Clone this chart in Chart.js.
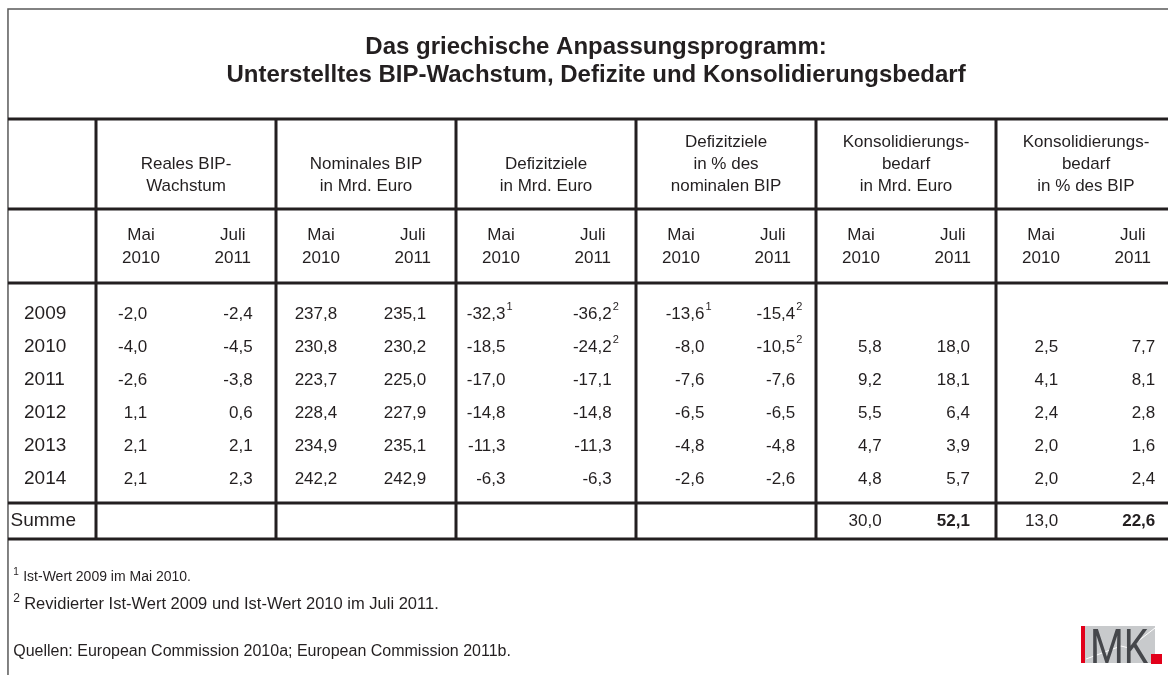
<!DOCTYPE html>
<html lang="de">
<head>
<meta charset="UTF-8">
<title>Das griechische Anpassungsprogramm</title>
<script src="https://cdn.jsdelivr.net/npm/chart.js"></script>
<style>
  html, body { margin: 0; padding: 0; background: #fff; }
  #wrap { width: 1168px; height: 675px; }
</style>
</head>
<body>
<div id="wrap"><canvas id="table"></canvas></div>
<script>
const years = ['2009', '2010', '2011', '2012', '2013', '2014'];
const realMay   = [-2.0, -4.0, -2.6, 1.1, 2.1, 2.1];
const realJul   = [-2.4, -4.5, -3.8, 0.6, 2.1, 2.3];
const nomMay    = [237.8, 230.8, 223.7, 228.4, 234.9, 242.2];
const nomJul    = [235.1, 230.2, 225.0, 227.9, 235.1, 242.9];
const defMay    = [-32.3, -18.5, -17.0, -14.8, -11.3, -6.3];
const defJul    = [-36.2, -24.2, -17.1, -14.8, -11.3, -6.3];
const defPctMay = [-13.6, -8.0, -7.6, -6.5, -4.8, -2.6];
const defPctJul = [-15.4, -10.5, -7.6, -6.5, -4.8, -2.6];
const konsMay   = [null, 5.8, 9.2, 5.5, 4.7, 4.8];
const konsJul   = [null, 18.0, 18.1, 6.4, 3.9, 5.7];
const konsPctMay = [null, 2.5, 4.1, 2.4, 2.0, 2.0];
const konsPctJul = [null, 7.7, 8.1, 2.8, 1.6, 2.4];

// footnote marks per cell
const defMayNotes    = ['1', null, null, null, null, null];
const defJulNotes    = ['2', '2', null, null, null, null];
const defPctMayNotes = ['1', null, null, null, null, null];
const defPctJulNotes = ['2', '2', null, null, null, null];

const sumLabel = 'Summe';
const sumValues = [null, null, null, null, null, null, null, null, 30.0, 52.1, 13.0, 22.6];
const sumBold   = [false, false, false, false, false, false, false, false, false, true, false, true];

const groupHeads = [
  ['Reales BIP-', 'Wachstum'],
  ['Nominales BIP', 'in Mrd. Euro'],
  ['Defizitziele', 'in Mrd. Euro'],
  ['Defizitziele', 'in % des', 'nominalen BIP'],
  ['Konsolidierungs-', 'bedarf', 'in Mrd. Euro'],
  ['Konsolidierungs-', 'bedarf', 'in % des BIP']
];
const vintages = [['Mai', '2010'], ['Juli', '2011']];

const titleLines = [
  'Das griechische Anpassungsprogramm:',
  'Unterstelltes BIP-Wachstum, Defizite und Konsolidierungsbedarf'
];
const notes = [
  ['1', 'Ist-Wert 2009 im Mai 2010.'],
  ['2', 'Revidierter Ist-Wert 2009 und Ist-Wert 2010 im Juli 2011.']
];
const sourceText = 'Quellen: European Commission 2010a; European Commission 2011b.';

const columns = [realMay, realJul, nomMay, nomJul, defMay, defJul,
                 defPctMay, defPctJul, konsMay, konsJul, konsPctMay, konsPctJul];
const columnNotes = [null, null, null, null, defMayNotes, defJulNotes,
                     defPctMayNotes, defPctJulNotes, null, null, null, null];

// --- layout ---
const FONT = '"Liberation Sans", Arial, Helvetica, sans-serif';
const INK = '#231f20';
// right edge of the numbers inside each sub-column (in column units)
const numRight = [0.57, 0.74, 0.68, 0.67, 0.55, 0.73, 0.76, 0.77, 0.73, 0.71, 0.69, 0.77];
const Y = {
  frameTop: 9, title: [47, 75], rule1: 119, head1: [142, 164, 186], rule2: 209,
  head2: [235, 258], rule3: 283, body0: 314, bodyStep: 33, rule4: 503, sum: 521,
  rule5: 539, notes: [577, 604], source: 652
};

const fmt = v => v.toFixed(1).replace('.', ',');

const tablePlugin = {
  id: 'tablePlugin',
  beforeDraw(chart) {
    const ctx = chart.ctx;
    ctx.save();
    ctx.fillStyle = '#fff';
    ctx.fillRect(0, 0, chart.width, chart.height);
    ctx.restore();
  },
  afterDraw(chart) {
    const { ctx } = chart;
    const x = chart.scales.x, y = chart.scales.y;
    const px = v => x.getPixelForValue(v);
    const py = v => y.getPixelForValue(v);
    const left = px(-0.978), right = chart.width;

    ctx.save();
    ctx.textBaseline = 'middle';

    // outer frame
    ctx.strokeStyle = '#5a5a5a';
    ctx.lineWidth = 1.5;
    ctx.beginPath();
    ctx.moveTo(left, chart.height);
    ctx.lineTo(left, py(Y.frameTop));
    ctx.lineTo(right, py(Y.frameTop));
    ctx.stroke();

    // title
    ctx.fillStyle = INK;
    ctx.font = 'bold 24px ' + FONT;
    ctx.textAlign = 'center';
    titleLines.forEach((t, i) => ctx.fillText(t, px(5.556), py(Y.title[i])));

    // rules
    ctx.strokeStyle = INK;
    ctx.lineWidth = 3;
    [Y.rule1, Y.rule2, Y.rule3, Y.rule4, Y.rule5].forEach(r => {
      ctx.beginPath();
      ctx.moveTo(left, py(r));
      ctx.lineTo(right, py(r));
      ctx.stroke();
    });
    for (let g = 0; g <= 5; g++) {
      ctx.beginPath();
      ctx.moveTo(px(2 * g), py(Y.rule1));
      ctx.lineTo(px(2 * g), py(Y.rule5));
      ctx.stroke();
    }

    // group headers
    ctx.font = '17px ' + FONT;
    ctx.textAlign = 'center';
    groupHeads.forEach((lines, g) => {
      const off = 3 - lines.length;
      lines.forEach((t, i) => ctx.fillText(t, px(2 * g + 1), py(Y.head1[i + off])));
      vintages.forEach((v, k) => {
        const cx = k === 0 ? px(2 * g + 0.5) : px(2 * g + 1.52);
        v.forEach((t, i) => ctx.fillText(t, cx, py(Y.head2[i])));
      });
    });

    // body
    years.forEach((yr, r) => {
      const ry = py(Y.body0 + r * Y.bodyStep);
      ctx.font = '19px ' + FONT;
      ctx.textAlign = 'left';
      ctx.fillText(yr, px(-0.8), ry);
      columns.forEach((col, c) => {
        const v = col[r];
        if (v === null) return;
        const rx = px(c + numRight[c]);
        ctx.font = '17px ' + FONT;
        ctx.textAlign = 'right';
        ctx.fillText(fmt(v), rx, ry);
        const n = columnNotes[c] && columnNotes[c][r];
        if (n) {
          ctx.font = '11px ' + FONT;
          ctx.textAlign = 'left';
          ctx.fillText(n, rx + 1, ry - 7);
        }
      });
    });

    // sum row
    ctx.font = '19px ' + FONT;
    ctx.textAlign = 'left';
    ctx.fillText(sumLabel, px(-0.95), py(Y.sum));
    sumValues.forEach((v, c) => {
      if (v === null) return;
      ctx.font = (sumBold[c] ? 'bold ' : '') + '17px ' + FONT;
      ctx.textAlign = 'right';
      ctx.fillText(fmt(v), px(c + numRight[c]), py(Y.sum));
    });

    // footnotes and source
    ctx.textAlign = 'left';
    ctx.font = '10px ' + FONT;
    ctx.fillText(notes[0][0], px(-0.92), py(Y.notes[0]) - 5);
    ctx.font = '14px ' + FONT;
    ctx.fillText(notes[0][1], px(-0.92) + 10, py(Y.notes[0]));
    ctx.font = '12px ' + FONT;
    ctx.fillText(notes[1][0], px(-0.92), py(Y.notes[1]) - 5);
    ctx.font = '16.5px ' + FONT;
    ctx.fillText(notes[1][1], px(-0.92) + 11, py(Y.notes[1]));
    ctx.font = '16px ' + FONT;
    ctx.fillText(sourceText, px(-0.92), py(Y.source));

    // IMK logo
    const lx = 1081, ly = 626, lw = 74, lh = 37;
    ctx.fillStyle = '#c8cacc';
    ctx.fillRect(lx, ly, lw, lh);
    ctx.fillStyle = '#e2001a';
    ctx.fillRect(lx, ly, 4, lh);
    ctx.strokeStyle = '#fff';
    ctx.lineWidth = 1;
    ctx.beginPath();
    ctx.moveTo(lx + 5, ly + lh - 4);
    ctx.lineTo(lx + 40, ly + 20);
    ctx.lineTo(lx + 48, ly + 22);
    ctx.lineTo(lx + lw, ly + 2);
    ctx.stroke();
    ctx.fillStyle = '#45474b';
    ctx.font = '48px Roboto, "Liberation Sans Narrow", ' + FONT;
    ctx.textAlign = 'left';
    ctx.textBaseline = 'alphabetic';
    const w = ctx.measureText('MK').width;
    ctx.save();
    ctx.translate(lx + 9, ly + lh);
    ctx.scale(58 / w, 1);
    ctx.fillText('MK', 0, 0);
    ctx.restore();
    ctx.fillStyle = '#e2001a';
    ctx.fillRect(1151, 654, 11, 10);

    ctx.restore();
  }
};

new Chart(document.getElementById('table'), {
  type: 'scatter',
  data: { datasets: [] },
  options: {
    responsive: true,
    maintainAspectRatio: false,
    animation: false,
    layout: { padding: 0 },
    plugins: { legend: { display: false }, tooltip: { enabled: false } },
    scales: {
      x: { type: 'linear', display: false, min: -96 / 90, max: 1072 / 90 },
      y: { type: 'linear', display: false, reverse: true, min: 0, max: 675 }
    }
  },
  plugins: [tablePlugin]
});
</script>
</body>
</html>
